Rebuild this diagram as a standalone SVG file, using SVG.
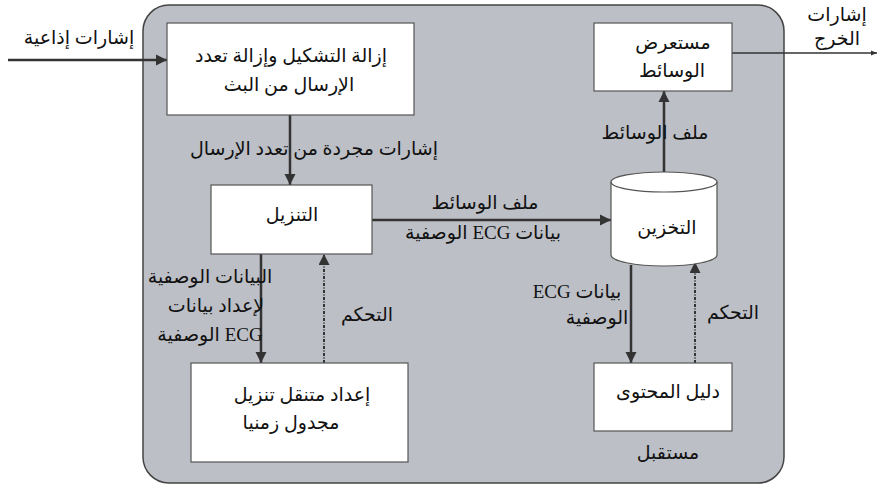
<svg xmlns="http://www.w3.org/2000/svg" width="877" height="485" viewBox="0 0 877 485">
  <style>
    .t { font-family: "Liberation Serif", "DejaVu Serif", "DejaVu Sans", serif; font-size: 19px; fill: #111; }
    .box { fill: #ffffff; stroke: #555; stroke-width: 1.2; }
    .ln { fill: none; stroke: #333; stroke-width: 2.5; }
    .dash { fill: none; stroke: #333; stroke-width: 2; stroke-dasharray: 3 1.5 1 1.5; }
    .thin { fill: none; stroke: #333; stroke-width: 1.3; }
  </style>
  <defs>
    <marker id="ah" viewBox="0 0 10 10" refX="10" refY="5" markerWidth="4.5" markerHeight="4.5" markerUnits="strokeWidth" orient="auto">
      <path d="M0,0 L10,5 L0,10 Z" fill="#333"/>
    </marker>
    <marker id="ahd" viewBox="0 0 10 10" refX="10" refY="5" markerWidth="5.5" markerHeight="5.5" markerUnits="strokeWidth" orient="auto">
      <path d="M0,0 L10,5 L0,10 Z" fill="#333"/>
    </marker>
    <marker id="ahs" viewBox="0 0 10 10" refX="10" refY="5" markerWidth="5" markerHeight="5" markerUnits="strokeWidth" orient="auto">
      <path d="M0,1 L10,5 L0,9 Z" fill="#333"/>
    </marker>
  </defs>

  <!-- receiver enclosure -->
  <rect id="receiver" x="143" y="5" width="641" height="478" rx="26" ry="26" fill="#bcbfc5" stroke="#444" stroke-width="1.5"/>

  <!-- connectors -->
  <g id="connectors">
    <line class="ln" x1="8" y1="60" x2="167" y2="60" marker-end="url(#ah)"/>
    <line class="ln" x1="290" y1="115" x2="290" y2="185" marker-end="url(#ah)"/>
    <line class="ln" x1="372" y1="220" x2="611" y2="220" marker-end="url(#ah)"/>
    <line class="ln" x1="664" y1="172" x2="664" y2="91" marker-end="url(#ah)"/>
    <line class="thin" x1="732" y1="53" x2="877" y2="53" marker-end="url(#ahs)"/>
    <line class="ln" x1="261" y1="254" x2="261" y2="363" marker-end="url(#ah)"/>
    <line class="dash" x1="324" y1="363" x2="324" y2="254" marker-end="url(#ahd)"/>
    <line class="ln" x1="631" y1="265" x2="631" y2="363" marker-end="url(#ah)"/>
    <line class="dash" x1="695" y1="363" x2="695" y2="262" marker-end="url(#ahd)"/>
  </g>

  <!-- demodulation / demultiplexing -->
  <g id="demux">
    <rect class="box" x="167" y="23" width="247" height="92"/>
    <text class="t" x="291" y="62" text-anchor="middle" direction="rtl">إزالة التشكيل وإزالة تعدد</text>
    <text class="t" x="289" y="91" text-anchor="middle" direction="rtl">الإرسال من البث</text>
  </g>

  <!-- download -->
  <g id="download">
    <rect class="box" x="211" y="185" width="161" height="69"/>
    <text class="t" x="292" y="221" text-anchor="middle" direction="rtl">التنزيل</text>
  </g>

  <!-- scheduled download setup -->
  <g id="scheduler">
    <rect class="box" x="191" y="363" width="217" height="99"/>
    <text class="t" x="302" y="401" text-anchor="middle" direction="rtl">إعداد متنقل تنزيل</text>
    <text class="t" x="291" y="429" text-anchor="middle" direction="rtl">مجدول زمنيا</text>
  </g>

  <!-- storage -->
  <g id="storage">
    <path d="M611,182 L611,255 A53,11 0 0 0 717,255 L717,182" fill="#fff" stroke="#555" stroke-width="1.2"/>
    <ellipse cx="664" cy="182" rx="53" ry="10" fill="#fff" stroke="#555" stroke-width="1.2"/>
    <text class="t" x="667" y="234" text-anchor="middle" direction="rtl">التخزين</text>
  </g>

  <!-- media viewer -->
  <g id="viewer">
    <rect class="box" x="594" y="23" width="138" height="68"/>
    <text class="t" x="673" y="49" text-anchor="middle" direction="rtl">مستعرض</text>
    <text class="t" x="672" y="77" text-anchor="middle" direction="rtl">الوسائط</text>
  </g>

  <!-- content guide -->
  <g id="guide">
    <rect class="box" x="594" y="363" width="138" height="68"/>
    <text class="t" x="668" y="398" text-anchor="middle" direction="rtl">دليل المحتوى</text>
  </g>

  <!-- labels -->
  <g id="labels">
    <text class="t" x="79" y="44" text-anchor="middle" direction="rtl">إشارات إذاعية</text>
    <text class="t" x="314" y="155" text-anchor="middle" direction="rtl">إشارات مجردة من تعدد الإرسال</text>
    <text class="t" x="485" y="209" text-anchor="middle" direction="rtl">ملف الوسائط</text>
    <text class="t" x="483" y="239" text-anchor="middle" direction="rtl">بيانات ECG الوصفية</text>
    <text class="t" x="655" y="139" text-anchor="middle" direction="rtl">ملف الوسائط</text>
    <text class="t" x="210" y="283" text-anchor="middle" direction="rtl">البيانات الوصفية</text>
    <text class="t" x="216" y="312" text-anchor="middle" direction="rtl">لإعداد بيانات</text>
    <text class="t" x="210" y="341" text-anchor="middle" direction="rtl">ECG الوصفية</text>
    <text class="t" x="367" y="321" text-anchor="middle" direction="rtl">التحكم</text>
    <text class="t" x="577" y="298" text-anchor="middle" direction="rtl">بيانات ECG</text>
    <text class="t" x="597" y="324" text-anchor="middle" direction="rtl">الوصفية</text>
    <text class="t" x="733" y="319" text-anchor="middle" direction="rtl">التحكم</text>
    <text class="t" x="668" y="459" text-anchor="middle" direction="rtl">مستقبل</text>
    <text class="t" x="837" y="21" text-anchor="middle" direction="rtl">إشارات</text>
    <text class="t" x="837" y="45" text-anchor="middle" direction="rtl">الخرج</text>
  </g>
</svg>
